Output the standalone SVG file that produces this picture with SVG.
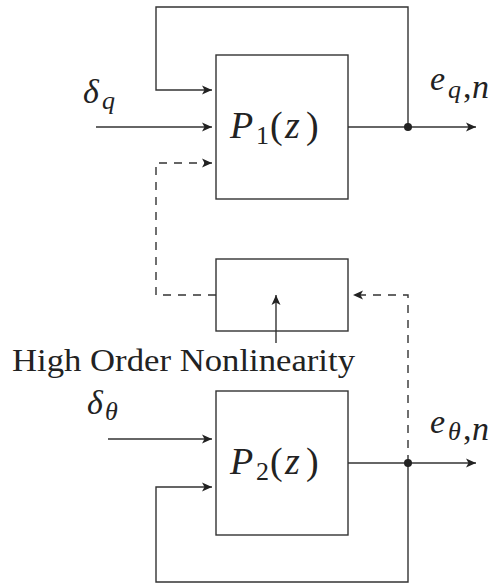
<svg xmlns="http://www.w3.org/2000/svg" width="495" height="585" viewBox="0 0 495 585">
<style>
.box{fill:none;stroke:#333;stroke-width:1.4}
.ln{fill:none;stroke:#333;stroke-width:1.4}
.dash{stroke-dasharray:8 7}
.t{font-family:"Liberation Serif","Times New Roman",serif;fill:#222}
.m{font-family:"Liberation Serif","Times New Roman",serif;font-style:italic;fill:#222}
.up{font-style:normal}
</style>
<defs>
<marker id="ah" markerUnits="userSpaceOnUse" markerWidth="14" markerHeight="12" viewBox="-12 -6 14 12" refX="0" refY="0" orient="auto">
<path d="M0,0 L-10,-4.5 L-7.5,0 L-10,4.5 Z" fill="#222"/>
</marker>
</defs>
<rect width="495" height="585" fill="#fff"/>
<g id="connectors">
<path class="ln" d="M96,127 H212" marker-end="url(#ah)"/>
<path class="ln" d="M348,127 H476" marker-end="url(#ah)"/>
<path class="ln" d="M408,127 V7 H156 V90 H212" marker-end="url(#ah)"/>
<path class="ln dash" d="M216,295 H156 V163 H212" marker-end="url(#ah)"/>
<path class="ln dash" d="M408,463 V295 H353" marker-end="url(#ah)"/>
<path class="ln" d="M276,343 V295" marker-end="url(#ah)"/>
<path class="ln" d="M108,439 H212" marker-end="url(#ah)"/>
<path class="ln" d="M348,463 H476" marker-end="url(#ah)"/>
<path class="ln" d="M408,463 V582 H156 V487 H212" marker-end="url(#ah)"/>
<circle cx="408" cy="127" r="4" fill="#222"/>
<circle cx="408" cy="463" r="4" fill="#222"/>
</g>
<g id="P1">
<rect class="box" x="216" y="55" width="132" height="144"/>
<text class="m" font-size="38" y="138"><tspan x="230">P</tspan><tspan class="up" x="256" y="144" font-size="26">1</tspan><tspan class="up" x="270" y="138">(</tspan><tspan x="285">z</tspan><tspan class="up" x="306">)</tspan></text>
</g>
<g id="NL">
<rect class="box" x="216" y="259" width="132" height="72"/>
</g>
<g id="P2">
<rect class="box" x="216" y="391" width="132" height="144"/>
<text class="m" font-size="38" y="474"><tspan x="230">P</tspan><tspan class="up" x="256" y="480" font-size="26">2</tspan><tspan class="up" x="270" y="474">(</tspan><tspan x="285">z</tspan><tspan class="up" x="306">)</tspan></text>
</g>
<g id="labels">
<text class="m" font-size="34" y="103"><tspan x="83">δ</tspan><tspan x="102" y="109" font-size="26">q</tspan></text>
<text class="m" font-size="34" y="90"><tspan x="430">e</tspan><tspan x="448" y="98" font-size="26">q</tspan><tspan class="up" x="463">,</tspan><tspan x="472">n</tspan></text>
<text class="m" font-size="34" y="414"><tspan x="87">δ</tspan><tspan x="105" y="420" font-size="26">θ</tspan></text>
<text class="m" font-size="34" y="433"><tspan x="430">e</tspan><tspan x="448" y="440" font-size="26">θ</tspan><tspan class="up" x="463">,</tspan><tspan x="472">n</tspan></text>
<text class="t" font-size="32" x="12" y="371" textLength="343" lengthAdjust="spacingAndGlyphs">High Order Nonlinearity</text>
</g>
</svg>
